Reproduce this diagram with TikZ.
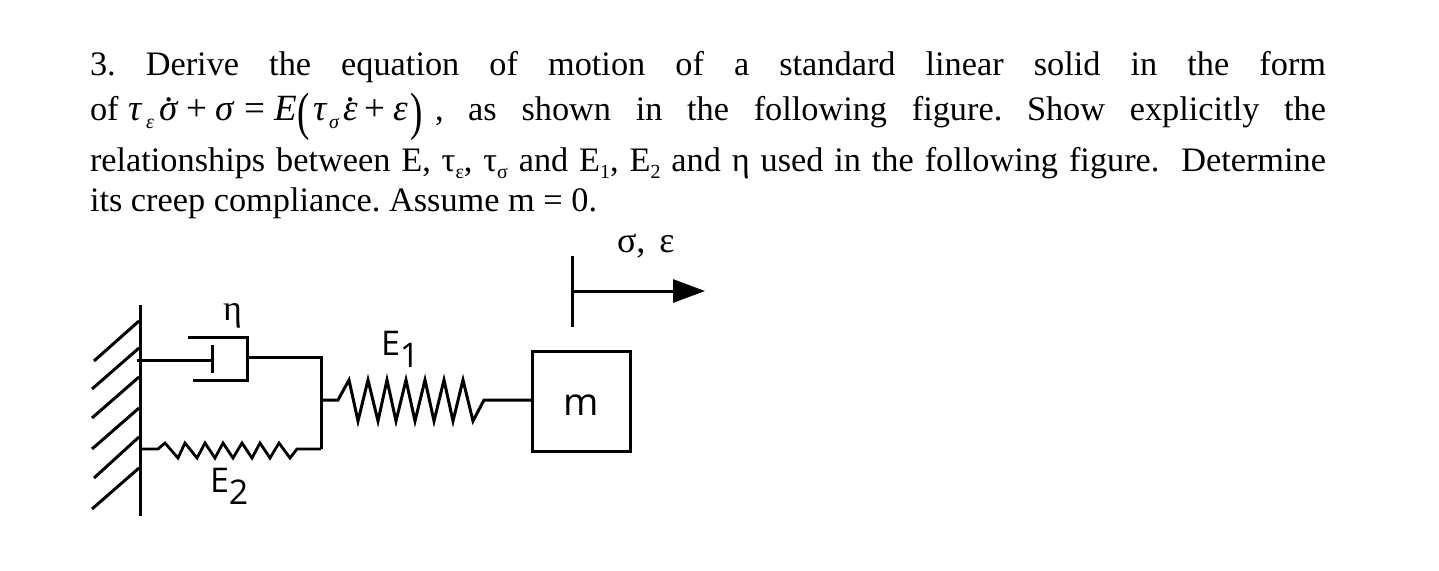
\documentclass[tikz,border=0pt]{standalone}
\usepackage{fontspec}
\setmainfont{Liberation Serif}
\newfontfamily\labelfont{Open Sans}
\usetikzlibrary{arrows.meta}
\frenchspacing
\newcommand{\dotted}[1]{\ooalign{\hfil\raisebox{0.5em}{.}\hfil\cr#1}}
\newcommand{\subs}[1]{\raisebox{-0.22em}{\fontsize{20}{20}\selectfont #1}}
\newcommand{\eqat}[2]{\rlap{\hskip #1pt\fontsize{37}{37}\selectfont #2}}
\newcommand{\eqsub}[2]{\rlap{\hskip #1pt\raisebox{-8pt}{\fontsize{20}{20}\selectfont\textit{#2}}}}
\newcommand{\tallparen}[1]{\raisebox{-9pt}{\scalebox{1}[1.42]{#1}}}
\tikzset{
  x=1pt,y=-1pt,
  wire/.style={line width=3pt,line cap=butt,line join=miter,black},
  thin wire/.style={wire,line width=2.8pt},
  textline/.style={anchor=base west,inner sep=0pt,outer sep=0pt,font=\fontsize{34.3}{34.3}\selectfont},
  sanslabel/.style={anchor=base west,inner sep=0pt,outer sep=0pt,font=\labelfont\fontsize{34}{34}\selectfont},
  greeklabel/.style={anchor=base west,inner sep=0pt,outer sep=0pt,font=\fontsize{36}{36}\selectfont},
  massbox/.style={draw,line width=3.2pt,minimum width=98pt,minimum height=100pt,inner sep=0pt,font=\labelfont\fontsize{38}{38}\selectfont},
}
\begin{document}
\begin{tikzpicture}
\useasboundingbox (0,0) rectangle (1439,570);
\fill[white] (0,0) rectangle (1439,570);
% text
\node[textline] (l1) at (90,75) {\hbox to 1236pt{3. Derive the equation of motion of a standard linear solid in the form}};
\node[textline] (l2) at (90,120) {\hbox to 1236pt{\rlap{of}\eqat{38}{\textit{τ}}\eqsub{56}{ε}\eqat{69}{\dotted{\textit{σ}}}\eqat{96}{+}\eqat{125}{\textit{σ}}\eqat{154}{=}\eqat{184}{\textit{E}}\eqat{207}{\tallparen{(}}\eqat{223}{\textit{τ}}\eqsub{239}{σ}\eqat{253}{\dotted{\textit{ε}}}\eqat{274}{+}\eqat{303}{\textit{ε}}\eqat{320}{\tallparen{)}}\hskip 345pt, as shown in the following figure. Show explicitly the}};
\node[textline] (l3) at (90,171) {\hbox to 1236pt{relationships between E, τ\subs{ε}, τ\subs{σ} and E\subs{1}, E\subs{2} and η used in the following figure.\ \ Determine}};
\node[textline] (l4) at (90,211) {its creep compliance. Assume m = 0.};
% wall
\coordinate (walltop) at (140.5,305);
\coordinate (wallbot) at (140.5,516);
\draw[wire] (walltop) -- (wallbot);
\foreach \ya/\xb/\yb in {321/94/361,348/92/389,377/92/418,408/92/449,437/94/478,468/92/509}
  \draw[wire] (139,\ya) -- (\xb,\yb);
% dashpot
\coordinate (rodstart) at (137,360);
\coordinate (pistonc) at (212,360);
\coordinate (pistontop) at (212,345);
\coordinate (pistonbot) at (212,373);
\coordinate (cyla) at (188,337);
\coordinate (cylb) at (247,337);
\coordinate (cylc) at (247,380);
\coordinate (cyld) at (193,380);
\coordinate (cylout) at (247,357);
\coordinate (jtop) at (321,357);
\coordinate (jmid) at (321,400);
\coordinate (jbot) at (321,449);
\draw[wire] (rodstart) -- (pistonc);
\draw[wire] (pistontop) -- (pistonbot);
\draw[wire] (cyla) -- (cylb) -- (cylc) -- (cyld);
\draw[wire] (cylout) -- (jtop) -- (jbot);
% E2 spring
\coordinate (wallb) at (140.5,449);
\draw[thin wire] (wallb) -- (158,449) -- (165,443) -- (178,458) -- (185,443) -- (197,458) -- (205,443) -- (215,458) -- (223,443) -- (233,458) -- (242,443) -- (252,458) -- (260,443) -- (270,458) -- (279,443) -- (290,458) -- (297,449) -- (jbot);
% mass
\node[massbox] (mass) at (581.5,401.7) {\raisebox{-14pt}[0pt][0pt]{m}};
% E1 spring
\draw[wire] (jmid) -- (338,400) -- (349,380) -- (358,421) -- (368,380) -- (378,421) -- (387,380) -- (396,421) -- (406,380) -- (415,421) -- (425,380) -- (434,421) -- (444,380) -- (453,421) -- (463,380) -- (473,421) -- (484,400) -- (mass.west |- jmid);
% displacement marker
\coordinate (ticktop) at (572.7,256);
\coordinate (tickbot) at (572.7,326.7);
\coordinate (arrowstart) at (572.7,291);
\coordinate (arrowtip) at (705,291);
\draw[wire] (ticktop) -- (tickbot);
\draw[wire,-{Triangle[length=32pt,width=23pt]}] (arrowstart) -- (arrowtip);
% labels
\node[greeklabel] (lsig) at (617,252) {σ,\hskip 14pt ε};
\node[greeklabel] (leta) at (223,320) {η};
\node[sanslabel] (le1) at (381,355) {E\raisebox{-12pt}{1}};
\node[sanslabel] (le2) at (210,492) {E\raisebox{-12pt}{2}};
\end{tikzpicture}
\end{document}
